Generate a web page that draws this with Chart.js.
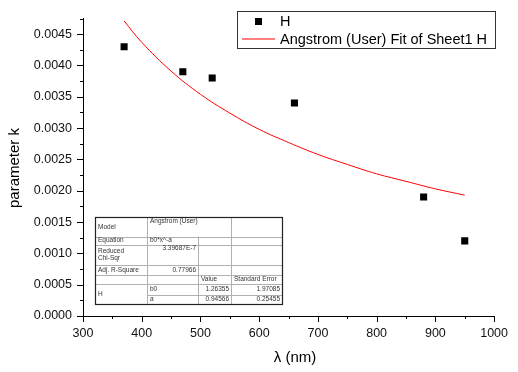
<!DOCTYPE html>
<html lang="en">
<head>
<meta charset="UTF-8">
<title>parameter k vs wavelength</title>
<script src="https://cdn.jsdelivr.net/npm/chart.js"></script>
<style>
    html, body {
        margin: 0;
        padding: 0;
        background: #ffffff;
    }

    #wrap {
        position: relative;
        width: 518px;
        height: 372px;
    }
</style>
</head>
<body>
<div id="wrap">
    <canvas id="chart"></canvas>
</div>

<script>
    // measured points (sheet1, column H)
    const wavelength = [370, 470, 520, 660, 880, 950];
    const paramK = [0.0043, 0.0039, 0.0038, 0.0034, 0.0019, 0.0012];

    // fit curve
    const fitWavelength = [370, 400, 450, 500, 550, 600, 650, 700, 750, 800, 850, 900, 950];
    const fitK = [0.00471, 0.00437, 0.00391, 0.00354, 0.00324, 0.00298, 0.00277, 0.00258, 0.00242, 0.00227, 0.00215, 0.00203, 0.00193];

    // axis ticks
    const xTicks = [300, 400, 500, 600, 700, 800, 900, 1000];
    const yTicks = [0, 0.0005, 0.0010, 0.0015, 0.0020, 0.0025, 0.0030, 0.0035, 0.0040, 0.0045];

    // fit report table
    const tableRows = [
        ["Model", "Angstrom (User)", "", ""],
        ["Equation", "b0*x^-a", "", ""],
        ["Reduced|Chi-Sqr", "3.39687E-7", "", ""],
        ["Adj. R-Square", "0.77966", "", ""],
        ["", "", "Value", "Standard Error"],
        ["H", "b0", "1.26355", "1.97085"],
        ["", "a", "0.94566", "0.25455"]
    ];

    const FONT = '"Liberation Sans", Arial, Helvetica, sans-serif';

    // minor/major tick marks, axis titles, legend box, fit table
    const extras = {
        id: 'extras',
        afterDraw(chart) {
            const ctx = chart.ctx;
            const xs = chart.scales.x;
            const ys = chart.scales.y;
            const area = chart.chartArea;
            ctx.save();

            // tick marks (outward)
            ctx.strokeStyle = '#000';
            ctx.lineWidth = 1;
            ctx.beginPath();
            for (let v = 300; v <= 1000; v += 50) {
                const px = Math.round(xs.getPixelForValue(v)) + 0.5;
                const len = (v % 100 === 0) ? 6 : 3;
                ctx.moveTo(px, area.bottom);
                ctx.lineTo(px, area.bottom + len);
            }
            for (let i = 0; i <= 19; i++) {
                const v = i * 0.00025;
                const py = Math.round(ys.getPixelForValue(v)) + 0.5;
                const len = (i % 2 === 0) ? 6 : 3;
                ctx.moveTo(area.left, py);
                ctx.lineTo(area.left - len, py);
            }
            ctx.stroke();

            // axis titles
            ctx.fillStyle = '#000';
            ctx.font = '15px ' + FONT;
            ctx.textAlign = 'center';
            ctx.textBaseline = 'middle';
            ctx.fillText('\u03bb (nm)', 295, 358);
            ctx.save();
            ctx.translate(15, 168);
            ctx.rotate(-Math.PI / 2);
            ctx.fillText('parameter k', 0, 0);
            ctx.restore();

            // legend
            const ds = chart.data.datasets;
            ctx.strokeStyle = '#333';
            ctx.strokeRect(237.5, 11.5, 258, 37);
            ctx.fillStyle = '#000';
            ctx.fillRect(255, 18, 7, 7);
            ctx.strokeStyle = '#ff0000';
            ctx.beginPath();
            ctx.moveTo(242, 39);
            ctx.lineTo(275, 39);
            ctx.stroke();
            ctx.fillStyle = '#000';
            ctx.font = '14.5px ' + FONT;
            ctx.textAlign = 'left';
            ctx.fillText(ds[0].label, 280, 21.5);
            ctx.fillText(ds[1].label, 280, 39.5);

            // table
            const cols = [95, 147, 198, 231, 282];
            const rows = [217, 236.5, 244.5, 265, 274.5, 284, 294.5, 304];
            ctx.strokeStyle = '#b0b0b0';
            ctx.beginPath();
            for (let r = 1; r < rows.length - 1; r++) {
                const x0 = (r === 6) ? cols[1] : cols[0];
                ctx.moveTo(x0, Math.round(rows[r]) + 0.5);
                ctx.lineTo(cols[4], Math.round(rows[r]) + 0.5);
            }
            ctx.moveTo(cols[1] + 0.5, rows[0]);
            ctx.lineTo(cols[1] + 0.5, rows[7]);
            ctx.moveTo(cols[2] + 0.5, rows[1]);
            ctx.lineTo(cols[2] + 0.5, rows[7]);
            ctx.moveTo(cols[3] + 0.5, rows[0]);
            ctx.lineTo(cols[3] + 0.5, rows[7]);
            ctx.stroke();
            ctx.strokeStyle = '#222';
            ctx.lineWidth = 1.2;
            ctx.strokeRect(cols[0] + 0.5, rows[0] + 0.5, cols[4] - cols[0], rows[7] - rows[0]);

            ctx.fillStyle = '#333';
            ctx.font = '6.5px ' + FONT;
            ctx.textBaseline = 'middle';
            tableRows.forEach((row, r) => {
                const top = rows[r];
                const bottom = rows[r + 1];
                row.forEach((txt, c) => {
                    if (!txt) return;
                    let y = (top + bottom) / 2;
                    if (r === 0 && c === 1) y = top + 4;
                    if (r === 2 && c === 1) y = top + 4;
                    if (r === 5 && c === 0) y = (rows[5] + rows[7]) / 2;
                    const numeric = /^[0-9]/.test(txt);
                    if (numeric) {
                        ctx.textAlign = 'right';
                        ctx.fillText(txt, cols[c + 1] - 2, y);
                    } else {
                        ctx.textAlign = 'left';
                        const parts = txt.split('|');
                        if (parts.length > 1) {
                            ctx.fillText(parts[0], cols[c] + 3, y - 4);
                            ctx.fillText(parts[1], cols[c] + 3, y + 3.5);
                        } else {
                            ctx.fillText(txt, cols[c] + 3, y);
                        }
                    }
                });
            });

            ctx.restore();
        }
    };

    new Chart(document.getElementById('chart'), {
        type: 'scatter',
        data: {
            datasets: [{
                label: 'H',
                data: wavelength.map((w, i) => ({ x: w, y: paramK[i] })),
                pointStyle: 'rect',
                pointRadius: 5,
                backgroundColor: '#000',
                borderWidth: 0
            }, {
                label: 'Angstrom (User) Fit of Sheet1 H',
                data: fitWavelength.map((w, i) => ({ x: w, y: fitK[i] })),
                showLine: true,
                pointRadius: 0,
                borderColor: '#ff0000',
                borderWidth: 1,
                tension: 0.4,
                clip: false
            }]
        },
        options: {
            responsive: true,
            maintainAspectRatio: false,
            animation: false,
            layout: {
                padding: { left: 0, top: 9, right: 16, bottom: 0 }
            },
            plugins: {
                legend: { display: false },
                tooltip: { enabled: false }
            },
            scales: {
                x: {
                    type: 'linear',
                    min: 300,
                    max: 1000,
                    afterBuildTicks: s => { s.ticks = xTicks.map(v => ({ value: v })); },
                    afterFit: s => { s.height = 56; },
                    grid: { display: false, drawTicks: false },
                    border: { display: true, color: '#000', width: 1 },
                    ticks: {
                        padding: 10,
                        color: '#111',
                        font: { family: FONT, size: 12.5 },
                        maxRotation: 0,
                        callback: v => String(v)
                    }
                },
                y: {
                    type: 'linear',
                    min: 0,
                    max: 0.00475,
                    afterBuildTicks: s => { s.ticks = yTicks.map(v => ({ value: v })); },
                    afterFit: s => { s.width = 83; },
                    grid: { display: false, drawTicks: false },
                    border: { display: true, color: '#000', width: 1 },
                    ticks: {
                        padding: 11,
                        color: '#111',
                        font: { family: FONT, size: 12.5 },
                        callback: v => v.toFixed(4)
                    }
                }
            }
        },
        plugins: [extras]
    });
</script>
</body>
</html>
